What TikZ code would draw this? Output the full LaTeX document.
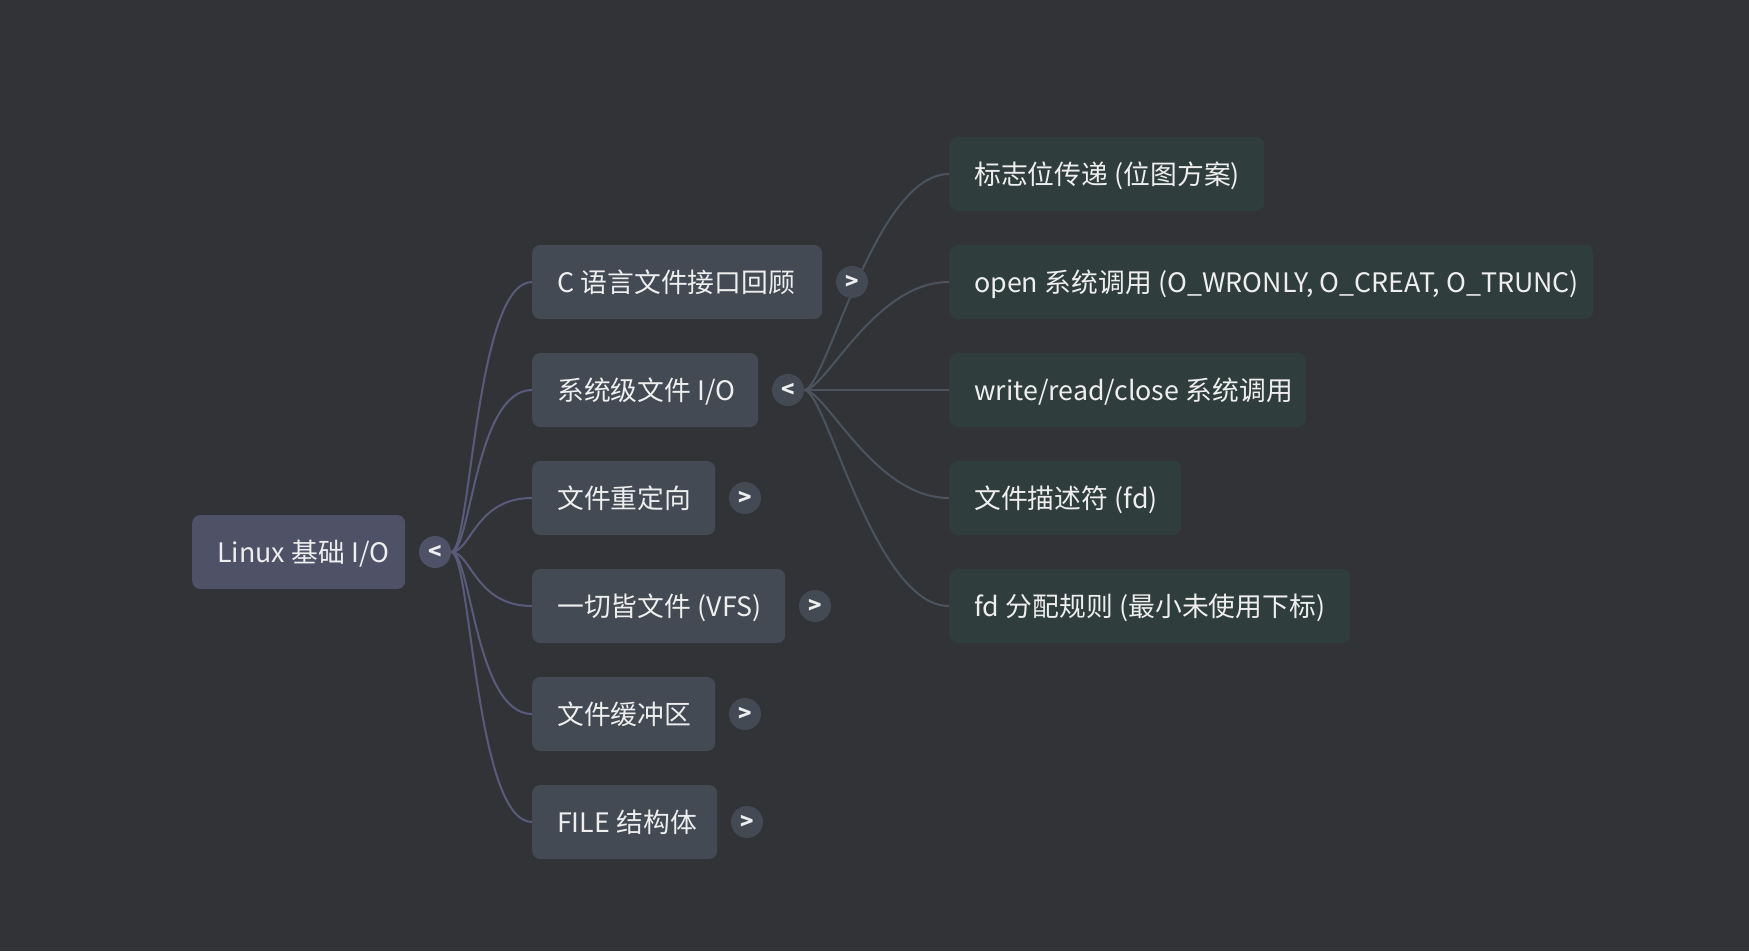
\documentclass[tikz,border=0pt]{standalone}
\usepackage{fontspec}
\setmainfont{Noto Sans CJK SC}
\definecolor{bg}{HTML}{323337}
\definecolor{rootc}{HTML}{4F5167}
\definecolor{lvone}{HTML}{434A54}
\definecolor{lvtwo}{HTML}{2F3E3C}
\definecolor{rootline}{HTML}{5A5B7A}
\definecolor{subline}{HTML}{4B545E}
\definecolor{txt}{HTML}{EEEEEE}
\pgfdeclarelayer{back}
\pgfsetlayers{back,main}
\newcommand\tightspace{\spaceskip=6.5pt\relax}
\tikzset{
  box/.style={rounded corners=8pt, anchor=west, inner xsep=25pt, inner ysep=0pt,
    minimum height=74pt, text height=20.4pt, text depth=0pt, align=left,
    text=txt, font=\fontsize{26.8}{30}\selectfont,
    execute at begin node=\tightspace},
  rootbox/.style={box, fill=rootc},
  onebox/.style={box, fill=lvone},
  twobox/.style={box, fill=lvtwo},
  toggle/.style={circle, minimum size=32pt, inner sep=0pt, text=txt,
    font=\fontsize{22}{24}\selectfont\bfseries},
  rootlink/.style={line width=2pt, rootline},
  sublink/.style={line width=2pt, subline},
}
\begin{document}
\begin{tikzpicture}[x=1pt,y=-1pt]
\useasboundingbox (0,0) rectangle (1749,951);
\begin{pgfonlayer}{back}
\fill[bg] (0,0) rectangle (1749,951);
\end{pgfonlayer}

% root
\node[rootbox, text width=163pt] (root) at (192,552) {\mbox{Linux 基础 I/O}};
\node[toggle, fill=rootc] (rt) at (435,552) {<};

% level one
\node[onebox, text width=240pt] (a1) at (532,282) {\mbox{C 语言文件接口回顾}};
\node[onebox, text width=176pt] (a2) at (532,390) {\mbox{系统级文件 I/O}};
\node[onebox, text width=133pt] (a3) at (532,498) {\mbox{文件重定向}};
\node[onebox, text width=203pt] (a4) at (532,606) {\mbox{一切皆文件 (VFS)}};
\node[onebox, text width=133pt] (a5) at (532,714) {\mbox{文件缓冲区}};
\node[onebox, text width=135pt] (a6) at (532,822) {\mbox{FILE 结构体}};

\node[toggle, fill=lvone] (t1) at (852,282) {>};
\node[toggle, fill=lvone] (t2) at (788,390) {<};
\node[toggle, fill=lvone] (t3) at (745,498) {>};
\node[toggle, fill=lvone] (t4) at (815,606) {>};
\node[toggle, fill=lvone] (t5) at (745,714) {>};
\node[toggle, fill=lvone] (t6) at (747,822) {>};

% level two
\node[twobox, text width=265pt] (b1) at (949,174) {\mbox{标志位传递 (位图方案)}};
\node[twobox, text width=594pt] (b2) at (949,282) {\mbox{open 系统调用 (O\_WRONLY, O\_CREAT, O\_TRUNC)}};
\node[twobox, text width=307pt] (b3) at (949,390) {\mbox{write/read/close 系统调用}};
\node[twobox, text width=182pt] (b4) at (949,498) {\mbox{文件描述符 (fd)}};
\node[twobox, text width=351pt] (b5) at (949,606) {\mbox{fd 分配规则 (最小未使用下标)}};

\begin{pgfonlayer}{back}
\foreach \n in {a1,a2,a3,a4,a5,a6}
  \draw[rootlink] (rt.east) .. controls +(20,0) and +(-57,0) .. (\n.west);
\foreach \n in {b1,b2,b3,b4,b5}
  \draw[sublink] (t2.east) .. controls +(22,0) and +(-75,0) .. (\n.west);
\end{pgfonlayer}
\end{tikzpicture}
\end{document}
